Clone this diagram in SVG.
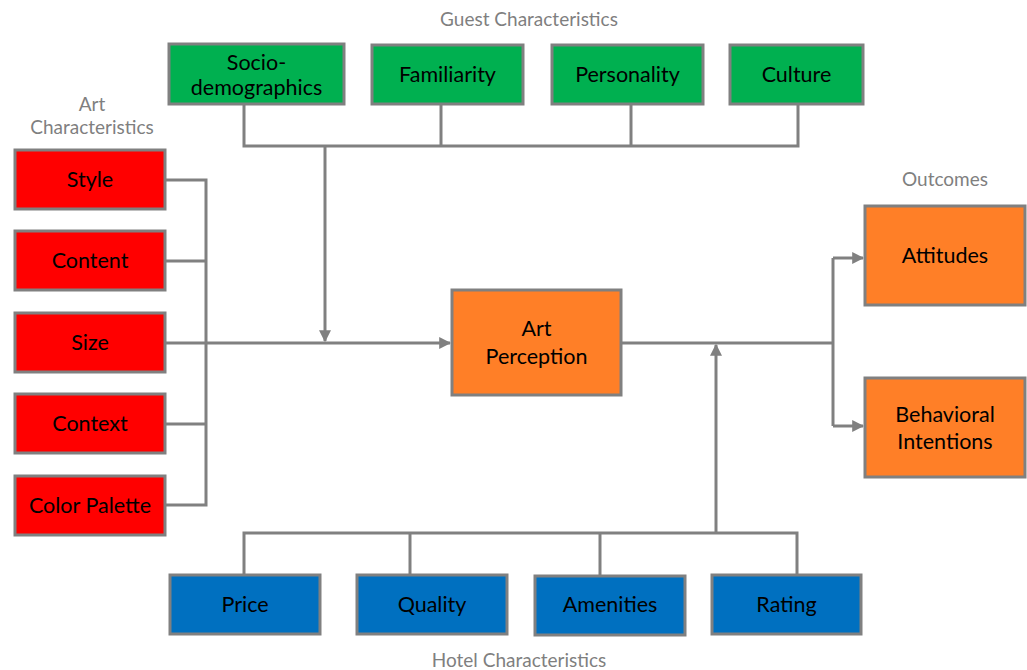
<svg xmlns="http://www.w3.org/2000/svg" width="1027" height="670" viewBox="0 0 1027 670">
<defs>
<marker id="ah" viewBox="0 0 10 10" refX="9" refY="5" markerWidth="4" markerHeight="4" orient="auto" markerUnits="strokeWidth">
<path d="M0,0 L10,5 L0,10 z" fill="#808080"/>
</marker>
</defs>
<style>
.box{stroke:#808080;stroke-width:3}
.g{fill:#00B050}.r{fill:#FF0000}.b{fill:#0070C0}.o{fill:#FF7F27}
.t{font-family:"Lato","Liberation Sans",sans-serif;font-size:21.5px;fill:#000;text-anchor:middle}
.lab{font-family:"Lato","Liberation Sans",sans-serif;font-size:19px;fill:#7F7F7F;text-anchor:middle}
.c{fill:none;stroke:#808080;stroke-width:3}
</style>
<rect width="1027" height="670" fill="#fff"/>
<text class="lab" x="529" y="26">Guest Characteristics</text>
<text class="lab" x="92" y="111">Art</text>
<text class="lab" x="92" y="134">Characteristics</text>
<text class="lab" x="945" y="186">Outcomes</text>
<text class="lab" x="519" y="667">Hotel Characteristics</text>
<g id="connectors">
<polyline class="c" points="244,104 244,146 798,146 798,104"/>
<line class="c" x1="441" y1="104" x2="441" y2="146"/>
<line class="c" x1="631" y1="104" x2="631" y2="146"/>
<line class="c" x1="325" y1="146" x2="325" y2="341" marker-end="url(#ah)"/>
<polyline class="c" points="165,180 206,180 206,505 165,505"/>
<line class="c" x1="165" y1="261" x2="206" y2="261"/>
<line class="c" x1="165" y1="424" x2="206" y2="424"/>
<line class="c" x1="165" y1="343" x2="450" y2="343" marker-end="url(#ah)"/>
<line class="c" x1="621" y1="343" x2="833" y2="343"/>
<line class="c" x1="833" y1="258" x2="833" y2="426"/>
<line class="c" x1="833" y1="258" x2="863" y2="258" marker-end="url(#ah)"/>
<line class="c" x1="833" y1="426" x2="863" y2="426" marker-end="url(#ah)"/>
<polyline class="c" points="244,575 244,533 797,533 797,575"/>
<line class="c" x1="410" y1="533" x2="410" y2="575"/>
<line class="c" x1="600" y1="533" x2="600" y2="575"/>
<line class="c" x1="716" y1="533" x2="716" y2="345" marker-end="url(#ah)"/>
</g>
<g id="socio"><rect class="box g" x="169" y="44" width="175" height="60"/><text class="t" x="256.5" y="70">Socio-</text><text class="t" x="256.5" y="95">demographics</text></g>
<g id="familiarity"><rect class="box g" x="372" y="45" width="151" height="59"/><text class="t" x="447.5" y="82">Familiarity</text></g>
<g id="personality"><rect class="box g" x="552" y="45" width="151" height="59"/><text class="t" x="627.5" y="82">Personality</text></g>
<g id="culture"><rect class="box g" x="730" y="45" width="133" height="59"/><text class="t" x="796.5" y="82">Culture</text></g>
<g id="style"><rect class="box r" x="15" y="150" width="150" height="59"/><text class="t" x="90" y="187">Style</text></g>
<g id="content"><rect class="box r" x="15" y="231" width="150" height="59"/><text class="t" x="90" y="268">Content</text></g>
<g id="size"><rect class="box r" x="15" y="313" width="150" height="59"/><text class="t" x="90" y="350">Size</text></g>
<g id="context"><rect class="box r" x="15" y="394" width="150" height="59"/><text class="t" x="90" y="431">Context</text></g>
<g id="palette"><rect class="box r" x="15" y="476" width="150" height="59"/><text class="t" x="90" y="513">Color Palette</text></g>
<g id="perception"><rect class="box o" x="452" y="290" width="169" height="105"/><text class="t" x="536.5" y="336">Art</text><text class="t" x="536.5" y="364">Perception</text></g>
<g id="attitudes"><rect class="box o" x="865" y="206" width="160" height="99"/><text class="t" x="945" y="263">Attitudes</text></g>
<g id="behavioral"><rect class="box o" x="865" y="378" width="160" height="99"/><text class="t" x="945" y="422">Behavioral</text><text class="t" x="945" y="449">Intentions</text></g>
<g id="price"><rect class="box b" x="170" y="575" width="150" height="59"/><text class="t" x="245" y="612">Price</text></g>
<g id="quality"><rect class="box b" x="357" y="575" width="150" height="59"/><text class="t" x="432" y="612">Quality</text></g>
<g id="amenities"><rect class="box b" x="535" y="576" width="150" height="59"/><text class="t" x="610" y="612">Amenities</text></g>
<g id="rating"><rect class="box b" x="712" y="575" width="149" height="59"/><text class="t" x="786.5" y="612">Rating</text></g>
</svg>
